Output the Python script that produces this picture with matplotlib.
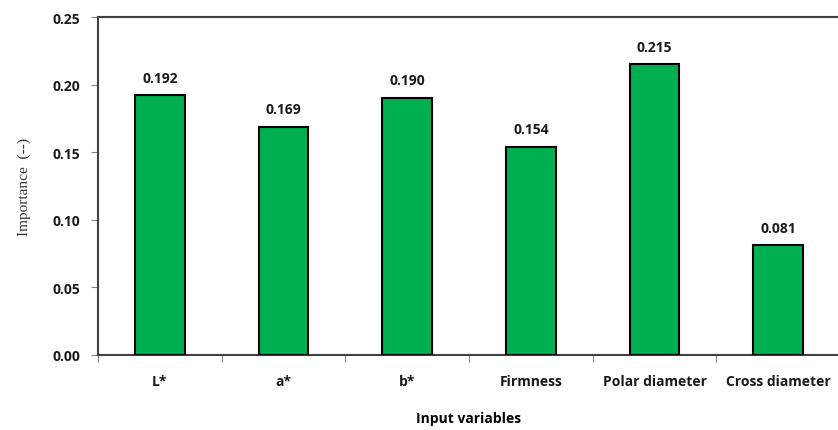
import numpy as np
import matplotlib
matplotlib.use("Agg")
import matplotlib.pyplot as plt
from matplotlib.ticker import FixedLocator, FormatStrFormatter

variables = ["L*", "a*", "b*", "Firmness", "Polar diameter", "Cross diameter"]
importance = [0.192, 0.169, 0.190, 0.154, 0.215, 0.081]

fig = plt.figure(figsize=(8.38, 4.31), dpi=100)
ax = fig.add_axes([98 / 838, 75 / 431, 742 / 838, 338 / 431])

x = np.arange(len(variables))
ax.bar(x, importance, width=0.4, color="#00B050", edgecolor="black", linewidth=1.5, zorder=3)

for xi, v in zip(x, importance):
    ax.text(xi, v + 0.008, "%.3f" % v, ha="center", va="bottom",
            fontsize=10, fontweight="bold", family="Open Sans", color="#1a1a1a")

ax.set_xlim(-0.5, len(variables) - 0.5)
ax.set_ylim(0, 0.25)
ax.set_yticks(np.arange(0, 0.2501, 0.05))
ax.yaxis.set_major_formatter(FormatStrFormatter("%.2f"))

# boundary ticks without labels, category labels on minor ticks
ax.xaxis.set_major_locator(FixedLocator(np.arange(-0.5, len(variables), 1.0)))
ax.set_xticklabels([])
ax.xaxis.set_minor_locator(FixedLocator(x))
ax.set_xticklabels(variables, minor=True)
ax.tick_params(axis="x", which="major", direction="out", length=5, width=0.8, color="#808080")
ax.tick_params(axis="x", which="minor", length=0, pad=14)
ax.tick_params(axis="y", direction="out", length=5, width=0.8, color="#808080", pad=8)

for lab in ax.get_xticklabels(minor=True) + ax.get_yticklabels():
    lab.set_fontweight("bold")
    lab.set_fontsize(10)
    lab.set_family("Open Sans")
    lab.set_color("#1a1a1a")

for s in ["left", "bottom", "top"]:
    ax.spines[s].set_color("#404040")
    ax.spines[s].set_linewidth(1.5)
ax.spines["right"].set_visible(False)

ax.set_xlabel("Input variables", fontsize=10, fontweight="bold", family="Open Sans", labelpad=16)
ax.set_ylabel("Importance  (--)", fontsize=11, family="Liberation Serif", labelpad=15, color="#333333")

fig.savefig("out.png", dpi=100)
